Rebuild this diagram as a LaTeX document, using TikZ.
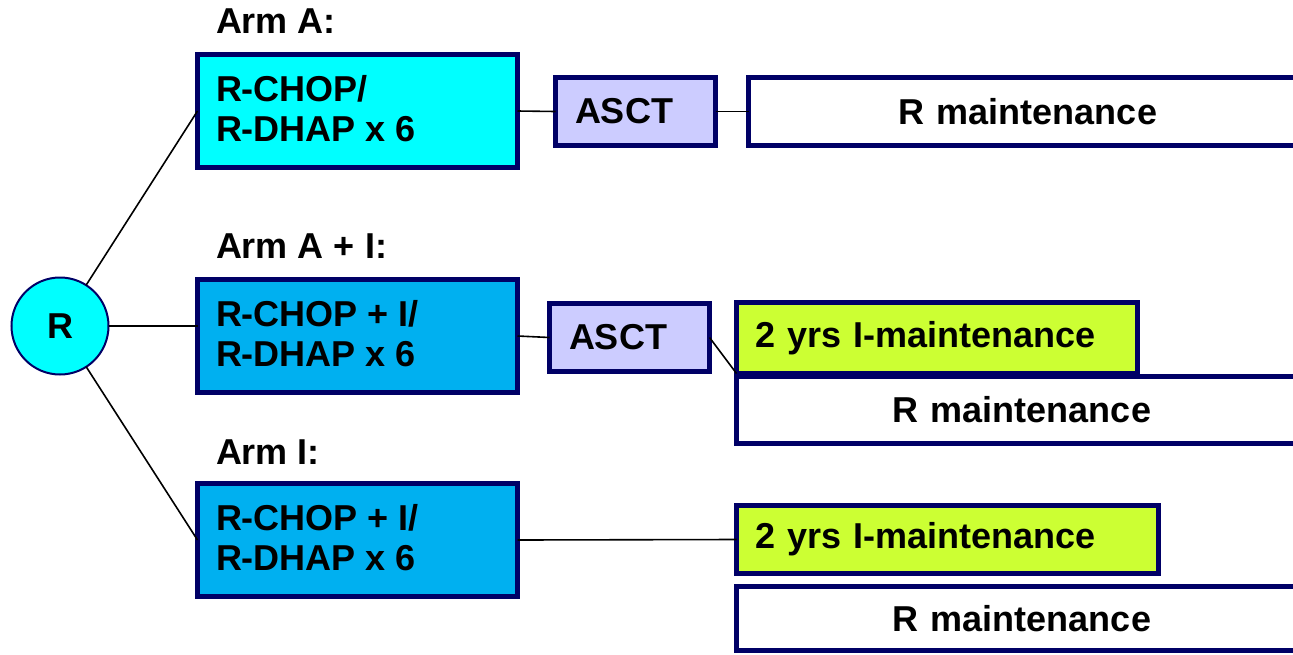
\documentclass[tikz,border=0pt]{standalone}
\usepackage{fontspec}
\setmainfont{Liberation Sans}
\definecolor{navy}{RGB}{0,0,102}
\definecolor{cyanA}{RGB}{0,255,255}
\definecolor{blueA}{RGB}{0,176,240}
\definecolor{lav}{RGB}{204,204,255}
\definecolor{lime}{RGB}{204,255,51}
\begin{document}
\begin{tikzpicture}[x=1pt,y=-1pt,
  every node/.style={font=\fontsize{36}{41}\selectfont\bfseries, outer sep=0pt},
  box/.style={draw=navy, line width=5pt, rectangle, align=left, inner ysep=0pt},
  armbox/.style={box, minimum width=320pt, minimum height=113pt, inner sep=0pt},
  armtext/.style={anchor=west, align=left, inner sep=0pt, font=\fontsize{36}{40}\selectfont\bfseries},
  asctbox/.style={box, fill=lav, minimum width=160pt, minimum height=68pt, text width=121pt, inner xsep=19.5pt},
  imbox/.style={box, fill=lime, minimum height=68pt, inner xsep=18.5pt},
  rmbox/.style={box, fill=white, align=center, minimum height=67pt, inner xsep=0pt},
  lbl/.style={anchor=west, inner sep=0pt},
  conn/.style={black, line width=1.6pt}]
\useasboundingbox (0,0) rectangle (1293,654);
\begin{scope}
\clip (0,0) rectangle (1293,654);
% circle
\node[circle, draw=navy, line width=2pt, fill=cyanA, minimum size=97pt, inner sep=0pt] (R) at (60,326) {R};
% arm labels
\node[lbl] (lA) at (216,21) {Arm A:};
\node[lbl] (lAI) at (216,246) {Arm A + I:};
\node[lbl] (lI) at (216,452) {Arm I:};
% arm A
\node[armbox, fill=cyanA] (armA) at (357.5,111) {};
\node[armtext] (tA) at (216,108.5) {R-CHOP/\\R-DHAP x 6};
\node[asctbox] (ascA) at (635.5,111.5) {ASCT};
\node[rmbox, minimum width=559pt, minimum height=68pt, text width=540pt] (rmA) at (1028,111.5) {R maintenance};
% arm A+I
\node[armbox, fill=blueA] (armAI) at (357.5,336) {};
\node[armtext] (tAI) at (216,333.5) {R-CHOP + I/\\R-DHAP x 6};
\node[asctbox] (ascAI) at (629.5,337.5) {ASCT};
\node[rmbox, minimum width=571pt, text width=550pt] (rmAI) at (1022,410) {R maintenance};
\node[imbox, minimum width=401pt, minimum height=71pt, text width=364pt] (imAI) at (937,338) {2 yrs I-maintenance};
% arm I
\node[armbox, fill=blueA] (armI) at (357.5,540) {};
\node[armtext] (tI) at (216,537.5) {R-CHOP + I/\\R-DHAP x 6};
\node[imbox, minimum width=422pt, text width=385pt] (imI) at (947.5,539.5) {2 yrs I-maintenance};
\node[rmbox, minimum width=571pt, minimum height=64pt, text width=550pt] (rmI) at (1022,618.5) {R maintenance};
\end{scope}
% connectors
\draw[conn] (R) -- (armA.west);
\draw[conn] (R.east) -- (armAI.west |- R.east);
\draw[conn] (R) -- (armI.west);
\draw[conn] (armA.east) -- (ascA.west);
\draw[conn] (ascA.east) -- (rmA.west);
\draw[conn] (armAI.east) -- (ascAI.west);
\draw[conn] (ascAI.east) -- (imAI.south west);
\draw[conn] (armI.east) -- (imI.west);
\end{tikzpicture}
\end{document}
